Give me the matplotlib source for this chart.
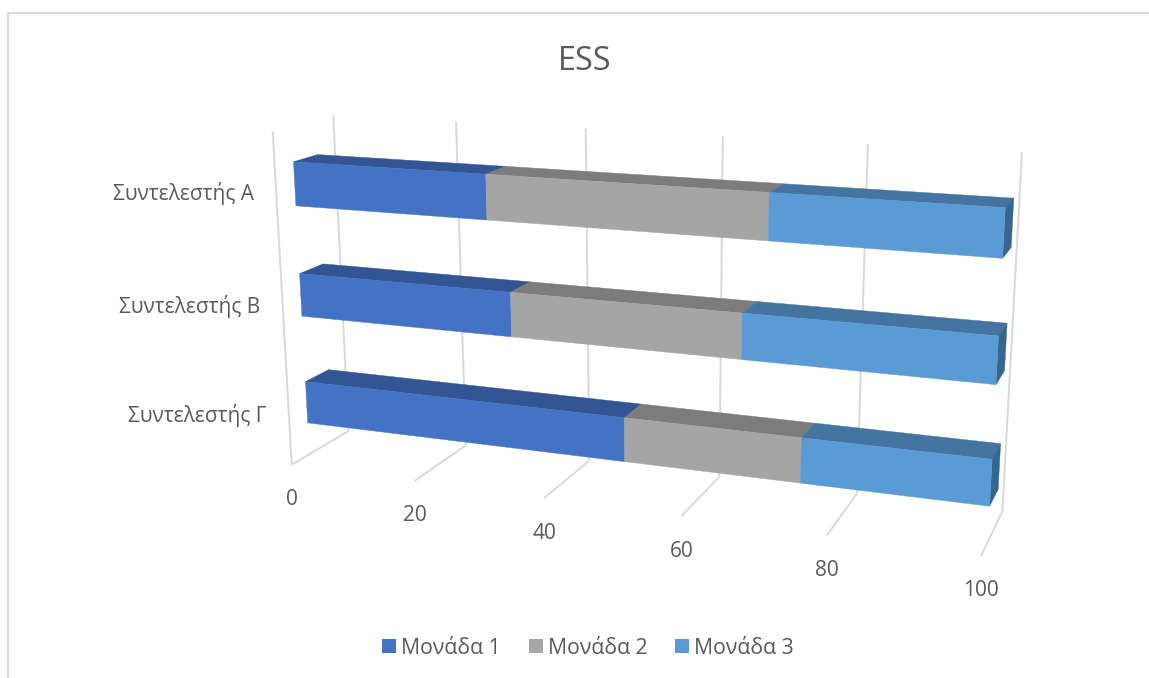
#!/usr/bin/env python
# -*- coding: utf-8 -*-
"""
ESS: stacked horizontal bars in 3D perspective
"""
import numpy as np
import matplotlib
matplotlib.use('Agg')
from matplotlib import pyplot as plt

title = 'ESS'
categories = ['Συντελεστής Γ', 'Συντελεστής Β', 'Συντελεστής Α']  # bottom to top
series_names = ['Μονάδα 1', 'Μονάδα 2', 'Μονάδα 3']
unit_1 = [50, 33.3, 30]
unit_2 = [25, 33.3, 40]
unit_3 = [25, 33.4, 30]
value_ticks = [0, 20, 40, 60, 80, 100]

front_colors = ['#4472C4', '#A5A5A5', '#5B9BD5']
top_colors = ['#335593', '#7C7C7C', '#4475A0']
side_colors = ['#2A4A80', '#6C6C6C', '#36658F']
grid_color = '#D9D9D9'
text_color = '#595959'

BAR_LOW, BAR_HIGH = 0.30, 0.69  # bar extent inside a category row
BAR_NEAR, BAR_FAR = 0.30, 0.70  # bar extent along the depth axis

# camera calibration: (value, row height, depth) -> pixel
camera_pts = [
    (0, 0, 0, 292, 465), (20, 0, 0, 414, 482), (40, 0, 0, 544, 498),
    (80, 0, 0, 827, 535), (100, 0, 0, 981, 555),
    (0, 0, 1, 348, 430), (20, 0, 1, 466, 445), (40, 0, 1, 590, 461),
    (80, 0, 1, 857, 493), (100, 0, 1, 1002, 513),
    (0, 3, 1, 333, 116), (20, 3, 1, 456, 122), (80, 3, 1, 868, 144),
    (100, 3, 1, 1022, 152), (0, 3, 0, 273, 131),
]


def fit_camera(pts):
    # direct linear transform, coordinates scaled to about 1
    rows = []
    for v, h, d, px, py in pts:
        X = [v / 100.0, h / 3.0, d, 1.0]
        u, w = px / 1000.0, py / 1000.0
        rows.append(X + [0, 0, 0, 0] + [-u * c for c in X])
        rows.append([0, 0, 0, 0] + X + [-w * c for c in X])
    _, _, vt = np.linalg.svd(np.array(rows))
    return vt[-1].reshape(3, 4)


P = fit_camera(camera_pts)


def project(v, h, d):
    q = P.dot([v / 100.0, h / 3.0, d, 1.0])
    return q[0] / q[2] * 1000.0, q[1] / q[2] * 1000.0


def face(ax, corners, color, z):
    pts = [project(*c) for c in corners]
    ax.fill([p[0] for p in pts], [p[1] for p in pts], color=color, lw=0.3, zorder=z)


def line3d(ax, a, b):
    pa, pb = project(*a), project(*b)
    ax.plot([pa[0], pb[0]], [pa[1], pb[1]], color=grid_color, lw=1.4, zorder=1,
            solid_capstyle='butt')


plt.rcParams['font.family'] = ['Open Sans', 'DejaVu Sans']
fig = plt.figure(figsize=(11.49, 6.78), dpi=100)
ax = fig.add_axes([0, 0, 1, 1])
ax.set_xlim(0, 1149)
ax.set_ylim(678, 0)
ax.axis('off')

# chart border, only top and left are inside the canvas
ax.plot([8, 8, 1149], [678, 13, 13], color=grid_color, lw=1.4, zorder=1)

# walls and floor
rows_total = len(categories)
for tick in value_ticks:
    line3d(ax, (tick, 0, 0), (tick, 0, 1))
    line3d(ax, (tick, 0, 1), (tick, rows_total, 1))
line3d(ax, (0, 0, 0), (0, rows_total, 0))

# bars, drawn left to right on each row, lower rows on top
series = [unit_1, unit_2, unit_3]
for i in range(rows_total):
    low, high = i + BAR_LOW, i + BAR_HIGH
    left = 0
    z = 10 + (rows_total - i) * 5
    for j, vals in enumerate(series):
        right = left + vals[i]
        face(ax, [(left, high, BAR_NEAR), (right, high, BAR_NEAR),
                  (right, high, BAR_FAR), (left, high, BAR_FAR)], top_colors[j], z)
        face(ax, [(left, low, BAR_NEAR), (right, low, BAR_NEAR),
                  (right, high, BAR_NEAR), (left, high, BAR_NEAR)], front_colors[j], z + 1)
        left = right
    face(ax, [(left, low, BAR_NEAR), (left, low, BAR_FAR),
              (left, high, BAR_FAR), (left, high, BAR_NEAR)], side_colors[2], z)

# tick labels follow the front floor edge
for tick in value_ticks:
    x, y = project(tick, 0, 0)
    ax.text(x, y + 35, str(tick), ha='center', va='center', fontsize=15, color=text_color)

for i, name in enumerate(categories):
    x, y = project(0, i + 0.5, 0)
    ax.text(x - 22, y + 4.5, name, ha='right', va='center', fontsize=15, color=text_color)

ax.text(584.5, 61, title, ha='center', va='center', fontsize=23.3, color=text_color)

# legend
legend_x = [382, 529, 675]
for x, name, color in zip(legend_x, series_names, front_colors):
    ax.fill([x, x + 14, x + 14, x], [639, 639, 653, 653], color=color, lw=0)
    ax.text(x + 19, 648, name, ha='left', va='center', fontsize=15.3, color=text_color)

fig.savefig('out.png', dpi=100)
